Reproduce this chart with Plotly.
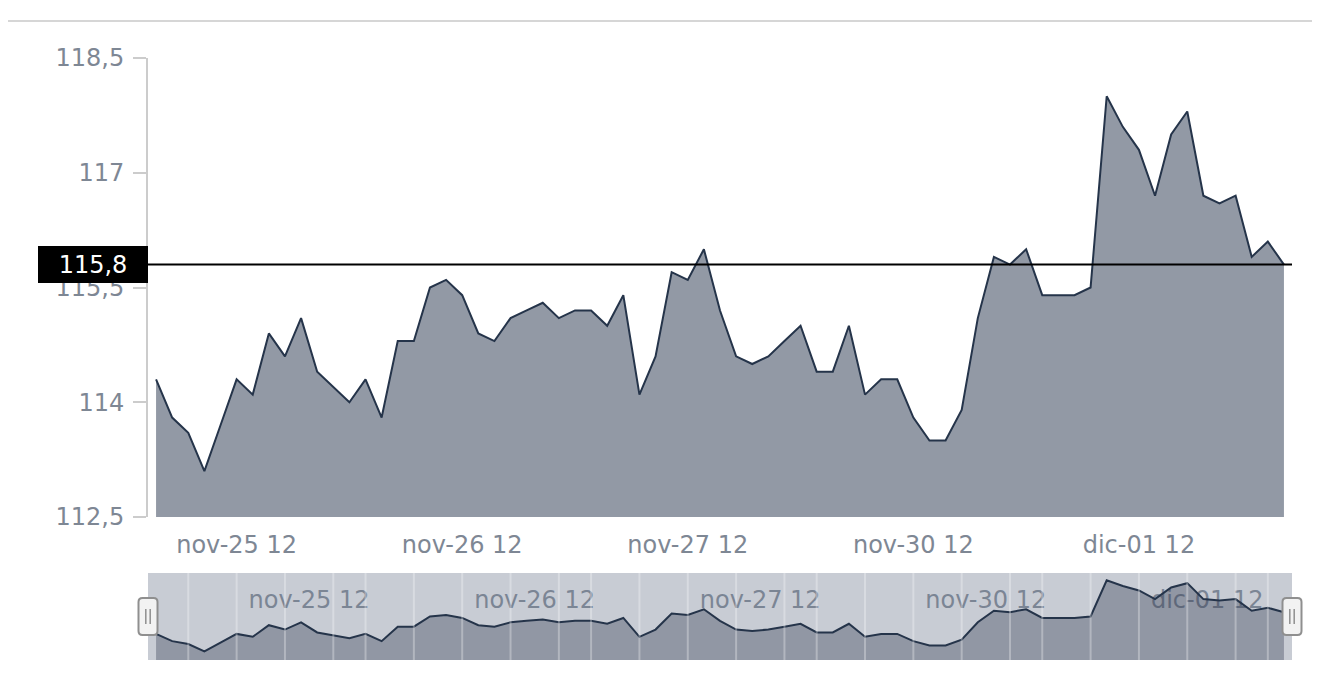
import plotly.graph_objects as go

# -- Data ---------------------------------------------------------------------

# trading days shown (weekend nov-28/29 is skipped, axis is ordinal)
DAYS = ["2020-11-25", "2020-11-26", "2020-11-27", "2020-11-30", "2020-12-01"]
HOURS = list(range(7, 21))
LAST_STAMP = "2020-12-01 21:00"

PRICES = [
    114.3, 113.8, 113.6, 113.1, 113.7, 114.3, 114.1, 114.9, 114.6, 115.1,
    114.4, 114.2, 114.0, 114.3, 113.8, 114.8, 114.8, 115.5, 115.6, 115.4,
    114.9, 114.8, 115.1, 115.2, 115.3, 115.1, 115.2, 115.2, 115.0, 115.4,
    114.1, 114.6, 115.7, 115.6, 116.0, 115.2, 114.6, 114.5, 114.6, 114.8,
    115.0, 114.4, 114.4, 115.0, 114.1, 114.3, 114.3, 113.8, 113.5, 113.5,
    113.9, 115.1, 115.9, 115.8, 116.0, 115.4, 115.4, 115.4, 115.5, 118.0,
    117.6, 117.3, 116.7, 117.5, 117.8, 116.7, 116.6, 116.7, 115.9, 116.1,
    115.8,
]

TICK_HOUR = 12
TICK_LABELS = ["nov-25 12", "nov-26 12", "nov-27 12", "nov-30 12", "dic-01 12"]
NAV_GRID_HOURS = [9, 12, 15, 18, 20]

Y_TICKS = [112.5, 114, 115.5, 117, 118.5]
Y_LABELS = ["112,5", "114", "115,5", "117", "118,5"]

STAMPS = [f"{d} {h:02d}:00" for d in DAYS for h in HOURS] + [LAST_STAMP]
TICK_STAMPS = [f"{d} {TICK_HOUR:02d}:00" for d in DAYS]
NAV_GRID_STAMPS = [f"{d} {h:02d}:00" for d in DAYS for h in NAV_GRID_HOURS]

# -- Style --------------------------------------------------------------------

FONT = "DejaVu Sans"
LABEL_GREY = "#7e8794"
LINE_NAVY = "#25344a"
FILL_GREY = "#9299a5"
NAV_BG = "#c8ccd4"

last = PRICES[-1]
last_txt = f"{last:.1f}".replace(".", ",")

fig = go.Figure()

fig.add_trace(go.Scatter(
    x=STAMPS, y=PRICES, mode="lines", fill="tozeroy",
    line=dict(color=LINE_NAVY, width=2), fillcolor=FILL_GREY,
    hoverinfo="skip", xaxis="x", yaxis="y",
))
fig.add_trace(go.Scatter(
    x=STAMPS, y=PRICES, mode="lines", fill="tozeroy",
    line=dict(color=LINE_NAVY, width=2), fillcolor="rgba(43,53,75,0.35)",
    hoverinfo="skip", xaxis="x2", yaxis="y2",
))

shapes = [
    # navigator background
    dict(type="rect", xref="x2 domain", yref="y2 domain", x0=0, x1=1, y0=0, y1=1,
         fillcolor=NAV_BG, line=dict(width=0), layer="below"),
    # last price line
    dict(type="line", xref="x domain", yref="y", x0=0, x1=1, y0=last, y1=last,
         line=dict(color="black", width=2), layer="above"),
    # thin separator at the top of the page
    dict(type="line", xref="paper", yref="paper", x0=-0.13, x1=1.0184,
         y0=1.0615, y1=1.0615, line=dict(color="#d6d6d6", width=2)),
]

# navigator grid lines, drawn over the series like the original
for s in NAV_GRID_STAMPS:
    shapes.append(dict(type="line", xref="x2", yref="y2 domain", x0=s, x1=s, y0=0, y1=1,
                       line=dict(color="rgba(255,255,255,0.3)", width=2), layer="above"))

# navigator handles
handle = ("M -5.5,-18.5 L 5.5,-18.5 Q 9.5,-18.5 9.5,-14.5 L 9.5,14.5 Q 9.5,18.5 5.5,18.5 "
          "L -5.5,18.5 Q -9.5,18.5 -9.5,14.5 L -9.5,-14.5 Q -9.5,-18.5 -5.5,-18.5 Z")
grip = "M -2.2,-7.5 L -2.2,7.5 M 2.2,-7.5 L 2.2,7.5"
for anchor in (0, 1):
    common = dict(type="path", xref="x2 domain", yref="y2 domain",
                  xsizemode="pixel", ysizemode="pixel", xanchor=anchor, yanchor=0.5,
                  layer="above")
    shapes.append(dict(common, path=handle, fillcolor="#f2f2f2",
                       line=dict(color="#8f8f8f", width=2)))
    shapes.append(dict(common, path=grip, line=dict(color="#8f8f8f", width=1.5)))

fig.update_layout(
    width=1320, height=682,
    # the page body adds 8px, so the margins are set 8px short
    margin=dict(l=140, r=36, t=50, b=30),
    paper_bgcolor="white", plot_bgcolor="white",
    font=dict(family=FONT, size=24, color=LABEL_GREY),
    showlegend=False,
    shapes=shapes,
    xaxis=dict(
        type="category", range=[-0.5, len(STAMPS) - 0.5],
        tickvals=TICK_STAMPS, ticktext=TICK_LABELS,
        showgrid=False, zeroline=False, showline=False, ticks="",
        ticklabelstandoff=11, anchor="y",
    ),
    yaxis=dict(
        domain=[0.2375, 1], range=[112.5, 118.5],
        tickvals=Y_TICKS, ticktext=Y_LABELS,
        showgrid=False, zeroline=False,
        showline=True, linecolor="#cccccc", linewidth=2,
        ticks="outside", ticklen=13, tickcolor="#cccccc", tickwidth=1.5,
        ticklabelstandoff=4,
    ),
    xaxis2=dict(
        type="category", range=[-0.5, len(STAMPS) - 0.5], anchor="y2",
        side="top", ticklabelposition="inside right", ticklabelshift=12,
        ticklabelstandoff=12,
        tickvals=TICK_STAMPS, ticktext=TICK_LABELS,
        tickfont=dict(color="#7b8594", size=24, family=FONT),
        showgrid=False, zeroline=False, showline=False, ticks="",
        layer="below traces",
    ),
    yaxis2=dict(
        domain=[0, 0.1445], range=[112.5, 118.5], anchor="x2",
        showgrid=False, zeroline=False, showticklabels=False, ticks="",
    ),
    annotations=[dict(
        xref="paper", x=0, xanchor="right", yref="y", y=last, yanchor="middle",
        text=last_txt, showarrow=False, bgcolor="black",
        font=dict(color="white", size=24, family=FONT),
        width=110, height=37, borderpad=0, borderwidth=0, align="center",
    )],
)

fig.write_html("out.html")
